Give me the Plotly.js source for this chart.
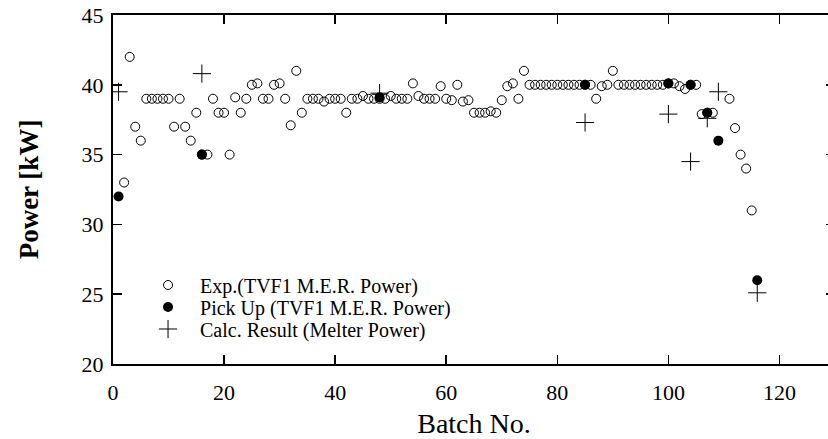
<!DOCTYPE html>
<html>
<head>
<meta charset="utf-8">
<script src="https://cdn.plot.ly/plotly-3.0.1.min.js"></script>
<style>
html,body{margin:0;padding:0;overflow:hidden;background:#fff;}
#chart{width:840px;height:439px;}
</style>
</head>
<body>
<div id="chart"></div>
<script>
// Exp. (TVF1 M.E.R. Power)
var expBatch = [2,3,4,5,6,7,8,9,10,11,12,13,14,15,16,17,18,19,20,21,22,23,24,25,26,27,28,29,30,
  31,32,33,34,35,36,37,38,39,40,41,42,43,44,45,46,47,48,49,50,51,52,53,54,55,56,57,58,59,60,
  61,62,63,64,65,66,67,68,69,70,71,72,73,74,75,76,77,78,79,80,81,82,83,84,85,86,87,88,89,90,
  91,92,93,94,95,96,97,98,99,100,101,102,103,104,105,106,107,108,111,112,113,114,115];
var expPower = [33,42,37,36,39,39,39,39,39,37,39,37,36,38,35,35,39,38,38,35,39.1,38,39,40,40.1,39,39,40,40.1,
  39,37.1,41,38,39,39,39,38.8,39,39,39,38,39,39,39.2,39,39,39,39,39.2,39,39,39,40.1,39.2,39,39,39,39.9,39,
  38.9,40,38.8,38.9,38,38,38,38.1,38,38.9,39.9,40.1,39,41,40,40,40,40,40,40,40,40,40,40,40,40,39,39.9,40,41,
  40,40,40,40,40,40,40,40,40,40.1,40.1,39.9,39.7,40,40,37.9,38,38,39,36.9,35,34,31];

// Pick Up (TVF1 M.E.R. Power)
var pickBatch = [1,16,48,85,100,104,107,109,116];
var pickPower = [32,35,39.1,40,40.1,40,38,36,26];

// Calc. Result (Melter Power)
var calcBatch = [1,16,48,85,100,104,107,109,116];
var calcPower = [39.5,40.8,39.4,37.3,37.9,34.5,37.6,39.5,25.1];

var xTicks = [0,20,40,60,80,100,120];
var yTicks = [20,25,30,35,40,45];

var serif = 'Liberation Serif, Times New Roman, serif';

var traces = [
  {x: expBatch, y: expPower, type: 'scatter', mode: 'markers', name: 'Exp.(TVF1 M.E.R. Power)',
   legend: 'legend',
   marker: {symbol: 'circle-open', size: 9, color: '#000', line: {width: 1, color: '#000'}}},
  {x: pickBatch, y: pickPower, type: 'scatter', mode: 'markers', name: 'Pick Up (TVF1 M.E.R. Power)',
   legend: 'legend2',
   marker: {symbol: 'circle', size: 10, color: '#000'}},
  {x: calcBatch, y: calcPower, type: 'scatter', mode: 'markers', name: 'Calc. Result (Melter Power)',
   legend: 'legend3',
   marker: {symbol: 'cross-thin-open', size: 13, color: '#000', line: {width: 1, color: '#000'}}}
];

var axisCommon = {
  showgrid: false, zeroline: false, showline: true, linecolor: '#000', linewidth: 2,
  mirror: 'ticks', ticks: 'inside', ticklen: 9, tickwidth: 1.5, tickcolor: '#000',
  tickfont: {family: serif, size: 22, color: '#000'}
};

function legendAt(yPaper) {
  return {x: 0.0319, y: yPaper, xanchor: 'left', yanchor: 'middle', bgcolor: 'rgba(0,0,0,0)',
          font: {family: serif, size: 20, color: '#000'}, itemwidth: 54};
}

var layout = {
  width: 840, height: 439,
  margin: {l: 113, r: 5, t: 15, b: 75},
  paper_bgcolor: '#fff', plot_bgcolor: '#fff',
  showlegend: true,
  legend: legendAt(0.2264),
  legend2: legendAt(0.1633),
  legend3: legendAt(0.1003),
  xaxis: Object.assign({}, axisCommon, {
    range: [0, 130], tickmode: 'array', tickvals: xTicks, ticktext: xTicks.map(String),
    ticklabelstandoff: 8,
    title: {text: 'Batch No.', font: {family: serif, size: 28, color: '#000'}, standoff: 15}
  }),
  yaxis: Object.assign({}, axisCommon, {
    range: [20, 45], tickmode: 'array', tickvals: yTicks, ticktext: yTicks.map(String),
    ticklabelstandoff: 3,
    title: {text: '<b>Power [kW]</b>', font: {family: serif, size: 27, color: '#000'}, standoff: 35}
  })
};

Plotly.newPlot('chart', traces, layout, {displayModeBar: false, staticPlot: true});
</script>
</body>
</html>
